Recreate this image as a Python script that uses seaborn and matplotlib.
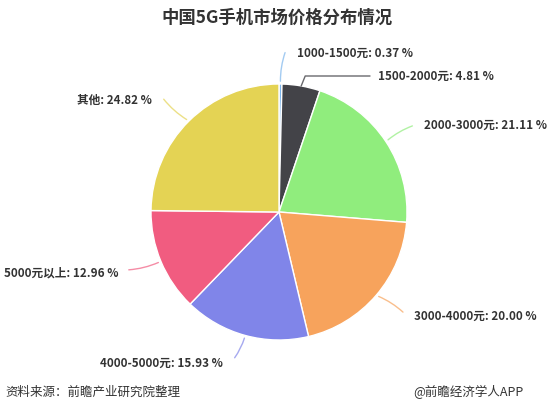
import numpy as np
import seaborn as sns
import matplotlib.pyplot as plt

sns.set_theme(style="white")
plt.rcParams['font.family'] = ['Noto Sans CJK SC', 'DejaVu Sans']

# 数据
categories = ['1000-1500元', '1500-2000元', '2000-3000元', '3000-4000元',
              '4000-5000元', '5000元以上', '其他']
shares = [0.37, 4.81, 21.11, 20.00, 15.93, 12.96, 24.82]
colors = ['#7cb5ec', '#434348', '#90ed7d', '#f7a35c', '#8085e9', '#f15c80', '#e4d354']

# 标签位置 (像素坐标, 原点左下)
label_pos = {
    '1000-1500元': ((286, 365), (297, 362), 'left'),
    '1500-2000元': ((370, 339), (378, 339), 'left'),
    '2000-3000元': ((415, 290), (424, 290), 'left'),
    '3000-4000元': ((405, 101), (414, 99), 'left'),
    '4000-5000元': ((233, 55), (223, 52), 'right'),
    '5000元以上': ((126, 145), (119, 142), 'right'),
    '其他': ((162, 318), (152, 315), 'right'),
}

W, H = 554, 415
fig = plt.figure(figsize=(W / 100, H / 100), dpi=100)
ax = fig.add_axes([0, 0, 1, 1])

cx, cy, r = 279, 203, 128
wedges, _ = ax.pie(shares, colors=colors, startangle=90, counterclock=False,
                   center=(cx, cy), radius=r,
                   wedgeprops=dict(edgecolor='white', linewidth=1))
ax.set_xlim(0, W)
ax.set_ylim(0, H)
ax.set_aspect('equal')
ax.axis('off')

for w, cat, val, col in zip(wedges, categories, shares, colors):
    ang = np.deg2rad((w.theta1 + w.theta2) / 2)
    px, py = cx + r * np.cos(ang), cy + r * np.sin(ang)
    (lx, ly), (tx, ty), ha = label_pos[cat]
    if cat == '1500-2000元':
        ax.plot([px, px + 4, lx], [py, ly, ly], color=col, lw=1, alpha=0.8)
    else:
        ax.annotate('', xy=(px, py), xytext=(lx, ly),
                    arrowprops=dict(arrowstyle='-', color=col, lw=1, alpha=0.7,
                                    connectionstyle='arc3,rad=0.1'))
    ax.text(tx, ty, f'{cat}: {val:.2f} %', ha=ha, va='center',
            fontsize=8.4, fontweight='bold', color='#333333')

fig.text(277 / W, 1 - 18 / H, '中国5G手机市场价格分布情况', ha='center', va='center',
         fontsize=12.5, fontweight='bold', color='#333333')
fig.text(5 / W, 1 - 392 / H, '资料来源：前瞻产业研究院整理', ha='left', va='center',
         fontsize=9, color='#333333')
fig.text(413 / W, 1 - 392 / H, '@前瞻经济学人APP', ha='left', va='center',
         fontsize=9, color='#333333')

fig.savefig('out.png', dpi=100, facecolor='white')
